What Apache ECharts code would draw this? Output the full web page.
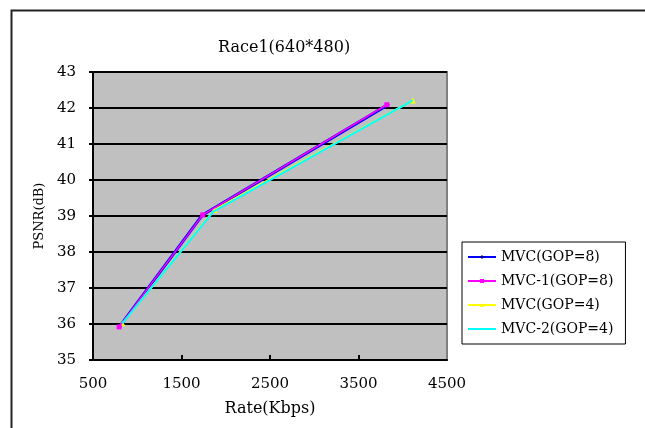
<!DOCTYPE html>
<html><head><meta charset="utf-8">
<script src="https://cdn.jsdelivr.net/npm/echarts@6/dist/echarts.min.js"></script>
<style>html,body{margin:0;padding:0;background:#fff}#c{width:645px;height:428px}</style>
</head><body><div id="c"></div>
<script>
const seriesNames = ['MVC(GOP=8)', 'MVC-1(GOP=8)', 'MVC(GOP=4)', 'MVC-2(GOP=4)'];
const mvc8Rate = [800, 1737, 3826];
const mvc8Psnr = [35.93, 39.03, 42.08];
const mvc1Rate = [795, 1740, 3820];
const mvc1Psnr = [35.92, 39.03, 42.09];
const mvc4Rate = [831, 1871, 4113];
const mvc4Psnr = [36.02, 39.17, 42.21];
const mvc2Rate = [831, 1860, 4113];
const mvc2Psnr = [36.02, 39.12, 42.21];
const xLabels = [500, 1500, 2500, 3500, 4500];
const xTicks = [1500, 2500, 3500];

const zip = (a, b) => a.map((v, i) => [v, b[i]]);
const font = '"DejaVu Serif", "Liberation Serif", serif';

const chart = echarts.init(document.getElementById('c'), null, {renderer: 'canvas'});
chart.setOption({
  animation: false,
  backgroundColor: '#fff',
  textStyle: {fontFamily: font, color: '#000'},
  graphic: [{
    type: 'rect', left: 9, top: 8, z: 100,
    shape: {width: 700, height: 500},
    style: {fill: 'none', stroke: '#222', lineWidth: 2}
  }],
  title: {
    text: 'Race1(640*480)', left: 213, top: 35,
    textStyle: {fontFamily: font, fontWeight: 'normal', fontSize: 16, color: '#000'}
  },
  legend: {
    orient: 'vertical', left: 462, top: 242,
    padding: [7, 12, 7, 5],
    borderColor: '#000', borderWidth: 1, backgroundColor: '#fff',
    itemWidth: 28, itemHeight: 5, itemGap: 8,
    textStyle: {fontFamily: font, fontSize: 14, color: '#000', lineHeight: 16},
    data: seriesNames
  },
  grid: {left: 93, top: 72, width: 354, height: 288, show: true,
    backgroundColor: '#c0c0c0', borderColor: '#808080', borderWidth: 2},
  xAxis: {
    type: 'value', min: 500, max: 4500,
    name: 'Rate(Kbps)', nameLocation: 'middle', nameGap: 41,
    nameTextStyle: {fontFamily: font, fontSize: 16, color: '#000'},
    axisLine: {lineStyle: {color: '#000', width: 2}},
    axisTick: {inside: true, length: 5, customValues: xTicks, lineStyle: {color: '#000', width: 2}},
    axisLabel: {customValues: xLabels, formatter: v => String(v), fontFamily: font, fontSize: 15, color: '#000', margin: 17},
    splitLine: {show: false}
  },
  yAxis: {
    type: 'value', min: 35, max: 43, interval: 1,
    name: 'PSNR(dB)', nameLocation: 'middle', nameGap: 46, nameRotate: 90,
    nameTextStyle: {fontFamily: font, fontSize: 13, color: '#000'},
    axisLine: {show: true, lineStyle: {color: '#000', width: 2}},
    axisTick: {show: true, length: 4, lineStyle: {color: '#000', width: 2}},
    axisLabel: {fontFamily: font, fontSize: 15, color: '#000', margin: 17},
    splitLine: {show: true, lineStyle: {color: '#000', width: 2}}
  },
  series: [
    {name: seriesNames[0], type: 'line', data: zip(mvc8Rate, mvc8Psnr),
      symbol: 'diamond', symbolSize: 5,
      itemStyle: {color: '#000080'}, lineStyle: {color: '#0000ff', width: 3}, z: 2},
    {name: seriesNames[1], type: 'line', data: zip(mvc1Rate, mvc1Psnr),
      symbol: 'rect', symbolSize: 5,
      itemStyle: {color: '#ff00ff'}, lineStyle: {color: '#ff00ff', width: 1.5}, z: 3},
    {name: seriesNames[2], type: 'line', data: zip(mvc4Rate, mvc4Psnr),
      symbol: 'triangle', symbolSize: 6,
      itemStyle: {color: '#ffff00'}, lineStyle: {color: '#ffff00', width: 2}, z: 2},
    {name: seriesNames[3], type: 'line', data: zip(mvc2Rate, mvc2Psnr),
      symbol: 'circle', showSymbol: false,
      itemStyle: {color: 'rgba(0,0,0,0)'}, lineStyle: {color: '#00ffff', width: 2}, z: 3}
  ]
});
</script></body></html>
